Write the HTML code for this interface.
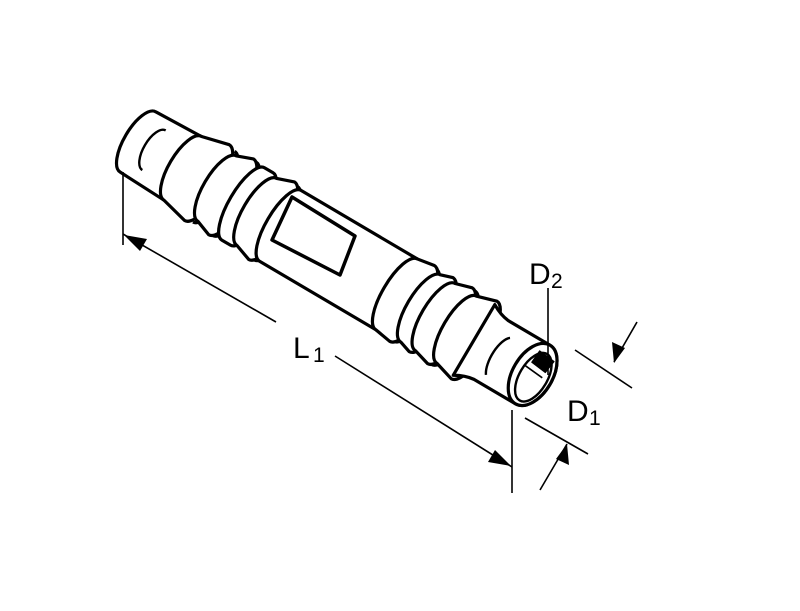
<!DOCTYPE html>
<html><head><style>
html,body{margin:0;padding:0;background:#fff;}
svg{display:block;}
text{font-family:"Liberation Sans",sans-serif;fill:#000;}
</style></head><body>
<svg width="800" height="611" viewBox="0 0 800 611">
<g fill="#fff" stroke="#000" stroke-width="3.2" stroke-linejoin="round">
<g transform="translate(138,142) rotate(30.5)">
<path d="M0,-35 L55,-37 A14,37 0 0 1 55,37 L0,35 A14,35 0 0 1 0,-35Z"/>
<path d="M18,-24 A10,22 0 0 0 18,22" fill="none" stroke-width="2.4"/>
<path d="M52,-37 L80,-44 A15,44 0 0 1 80,44 L52,37 A14,37 0 0 1 52,-37Z"/>
<path d="M88,-41 A14,41 0 0 1 88,41" fill="none"/>
<path d="M92,-38 L108,-44 A15,44 0 0 1 108,44 L92,38 A14,38 0 0 1 92,-38Z"/>
<path d="M112,-43 A15,43 0 0 1 112,43" fill="none" stroke-width="2.4"/>
<path d="M122,-42 L132,-42 A14,42 0 0 1 132,42 L122,42 A14,42 0 0 1 122,-42Z"/>
<path d="M138,-39 L155,-45 A15,45 0 0 1 155,45 L138,39 A14,39 0 0 1 138,-39Z"/>
<path d="M160,-43 A15,43 0 0 1 160,43" fill="none" stroke-width="2.4"/>
<path d="M165,-41 L300,-41 A14,41 0 0 1 300,41 L165,41 A14,41 0 0 1 165,-41Z"/>
<path d="M300,-41 L318,-44 A15,44 0 0 1 318,44 L300,41 A14,41 0 0 1 300,-41Z"/>
<path d="M322,-42 A14,42 0 0 1 322,42" fill="none" stroke-width="2.4"/>
<path d="M328,-39 L340,-43 A15,43 0 0 1 340,43 L328,39 A14,39 0 0 1 328,-39Z"/>
<path d="M345,-39 L362,-44 A15,44 0 0 1 362,44 L345,39 A14,39 0 0 1 345,-39Z"/>
<path d="M366,-43 A15,43 0 0 1 366,43" fill="none" stroke-width="2.4"/>
<path d="M370,-39 L390,-45 A15,45 0 0 1 390,45 L370,39 A14,39 0 0 1 370,-39Z"/>
<path d="M390,-41 Q400,-35 410,-34 L458,-34 A20,34 0 0 1 458,34 L410,34 Q400,35 390,41Z"/>
<path d="M420,-20 A10,24 0 0 0 418,24" fill="none" stroke-width="2.4"/>
<ellipse cx="458" cy="0" rx="20" ry="34"/>
<ellipse cx="460" cy="2" rx="14" ry="27" stroke-width="2.4"/>
<path d="M452,-24 L470,-22 L468,-8 L451,-10Z" fill="#000" stroke-width="1"/>
<line x1="446" y1="-4" x2="468" y2="-2" stroke-width="1.6"/>
</g>
<polygon points="272,240 292,197 355,236 340,275" stroke-width="3.5"/>
</g>
<g stroke="#000" stroke-width="1.6" fill="none">
<line x1="123" y1="172" x2="123" y2="245"/>
<line x1="512" y1="410" x2="512" y2="493"/>
<line x1="123" y1="234" x2="276" y2="322"/>
<line x1="335" y1="356" x2="512" y2="467"/>
<line x1="548" y1="288" x2="548" y2="375"/>
<line x1="575" y1="350" x2="632" y2="388"/>
<line x1="525" y1="418" x2="588" y2="454"/>
<line x1="637" y1="322" x2="614" y2="362"/>
<line x1="540" y1="490" x2="567" y2="444"/>
</g>
<g fill="#000">
<polygon points="124,235 147,239 140,251"/>
<polygon points="511,466 488,462 495,450"/>
<polygon points="614,363 612,342 625,348"/>
<polygon points="567,444 569,465 556,459"/>
</g>
<text x="293" y="358" font-size="30">L</text><text x="313" y="362" font-size="21">1</text>
<text x="529" y="284" font-size="30">D</text><text x="551" y="288" font-size="21">2</text>
<text x="567" y="421" font-size="30">D</text><text x="589" y="425" font-size="21">1</text>
</svg>
</body></html>
